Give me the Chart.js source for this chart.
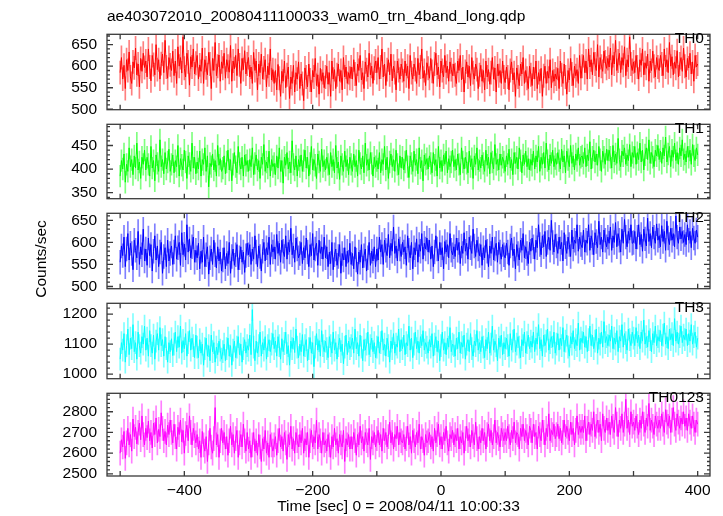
<!DOCTYPE html>
<html><head><meta charset="utf-8">
<script src="https://cdn.jsdelivr.net/npm/chart.js@4.4.1/dist/chart.umd.min.js"></script>
<style>
html,body{margin:0;padding:0;background:#fff;}
#wrap{position:relative;width:723px;height:516px;overflow:hidden;background:#fff;font-family:"Liberation Sans",Arial,Helvetica,sans-serif;color:#000;}
#wrap canvas{position:absolute;left:0;}
.txt{position:absolute;white-space:nowrap;font-size:15.5px;line-height:16px;height:16px;}
</style></head><body>
<div id="wrap"></div>
<script>
// ---------------- data ----------------
const TITLE = "ae403072010_20080411100033_wam0_trn_4band_long.qdp";
const X_LABEL = "Time [sec] 0 = 2008/04/11 10:00:33";
const Y_LABEL = "Counts/sec";
const PANEL_NAMES = ["TH0", "TH1", "TH2", "TH3", "TH0123"];
const T_START = -500;   // time of first bin (s)
const BIN = 2;          // bin width (s)
const X_TICKS = [-500, -400, -300, -200, -100, 0, 100, 200, 300, 400];
const X_LABELED = [-400, -200, 0, 200, 400];
const Y_LABELED = [[500, 550, 600, 650], [350, 400, 450], [500, 550, 600, 650], [1000, 1100, 1200], [2500, 2600, 2700, 2800]];
const ERRORS = [27, 23, 27, 37, 58];

const th0 = [
585,620,570,602,548,615,590,633,575,560,610,596,642,580,605,552,618,588,630,597,
612,575,640,598,566,625,604,580,650,592,615,570,606,628,585,660,598,572,620,603,
590,635,578,612,560,645,600,620,584,668,595,575,630,610,556,622,598,640,582,607,
625,570,603,588,642,560,615,596,580,632,605,548,618,590,655,578,600,626,565,610,
595,630,572,615,600,586,648,565,612,594,625,578,640,603,560,618,592,636,582,605,
620,575,598,560,632,590,612,545,605,585,628,570,596,615,552,600,580,640,568,592,
560,590,545,604,572,530,588,565,612,550,580,598,525,575,560,602,540,585,570,610,
548,582,560,520,596,575,552,605,568,540,590,575,618,555,580,535,595,565,585,550,
575,600,558,585,530,612,570,592,548,580,605,565,590,545,620,575,598,560,585,572,
598,570,615,582,555,605,590,625,568,585,548,610,592,575,630,580,600,560,595,612,
585,620,570,598,640,575,605,555,592,615,580,628,566,600,585,545,612,590,570,605,
590,565,612,578,600,548,625,585,570,605,592,560,618,580,598,640,572,590,555,608,
595,572,618,588,560,605,630,580,598,552,612,590,575,625,585,600,565,610,592,578,
605,580,560,612,590,625,568,598,540,588,610,575,600,555,620,585,570,605,592,548,
580,602,565,590,545,612,575,592,558,585,620,570,596,540,605,578,590,560,612,575,
562,598,575,545,590,610,568,585,530,596,575,555,605,582,620,560,590,572,548,600,
580,555,598,570,612,548,585,565,595,530,578,600,560,588,572,615,550,590,565,582,
570,595,548,612,580,560,605,575,535,590,568,618,582,555,600,578,592,560,625,572,
600,625,585,612,570,640,598,615,580,632,605,590,650,575,620,600,588,635,610,595,
618,598,642,580,625,605,660,590,612,630,585,620,602,645,578,615,598,668,605,590,
610,585,625,598,570,615,602,640,580,608,595,628,565,612,590,635,600,575,620,598,
590,625,605,578,640,598,615,585,655,600,622,580,610,595,636,575,605,620,588,642,
600,575,618,596,630,582,610,565,625,598,605];
const th1 = [
385,418,400,432,372,410,395,445,405,420,388,428,402,455,398,415,380,425,410,440,
398,425,410,385,448,402,418,375,430,412,395,462,405,420,390,435,400,415,442,395,
410,430,392,418,405,450,385,422,408,398,440,415,380,428,412,395,455,402,425,390,
415,400,438,385,420,410,445,395,428,362,412,405,432,398,418,385,450,408,422,395,
402,428,390,415,440,398,420,375,410,435,405,392,448,412,400,425,385,430,408,418,
395,420,405,445,388,412,430,398,418,380,425,410,452,395,415,402,438,385,420,405,
412,388,428,402,445,395,418,370,425,408,435,400,415,392,460,410,398,428,385,420,
405,430,395,418,440,402,425,385,412,448,398,420,408,380,432,415,395,442,405,418,
398,425,410,388,435,405,420,392,450,402,415,378,428,410,395,438,405,420,388,425,
410,395,432,405,418,385,440,412,400,428,392,455,408,420,398,435,412,385,425,405,
418,400,435,392,420,410,448,398,425,380,415,432,405,420,395,440,410,388,428,402,
425,398,415,440,405,382,428,412,395,438,408,420,390,445,402,418,375,430,410,422,
400,428,412,392,435,408,420,385,448,402,418,395,430,410,438,392,422,405,415,440,
405,420,398,432,410,388,445,415,400,425,412,392,438,405,422,380,428,410,445,398,
418,402,430,412,395,440,408,425,390,435,415,400,452,410,420,398,432,408,425,415,
395,428,410,442,402,420,388,435,412,425,400,445,418,392,430,410,438,405,422,398,
420,408,438,400,428,415,448,395,425,410,435,402,455,418,398,430,412,440,405,422,
410,435,418,400,442,415,428,392,438,420,405,450,412,428,398,432,418,445,408,425,
428,412,445,405,430,418,458,400,425,440,415,432,408,448,420,395,438,425,410,442,
418,440,425,402,450,415,432,412,465,420,405,438,428,445,410,430,418,452,405,435,
425,448,410,435,420,455,415,440,398,430,445,420,462,412,435,425,405,440,428,450,
420,438,412,445,428,468,415,432,448,405,440,425,455,418,435,410,445,428,462,420,
432,415,448,425,440,410,452,428,418,445,430];
const th2 = [
555,592,570,612,545,585,620,560,598,575,538,605,582,565,625,550,590,572,630,558,
585,548,610,570,595,535,580,615,560,592,545,578,600,530,568,588,545,605,558,575,
592,550,578,615,562,588,600,548,622,572,596,560,640,578,608,565,590,612,555,582,
565,598,540,580,555,612,545,572,590,528,565,585,550,605,572,542,590,558,578,535,
560,588,540,575,552,600,530,568,585,548,572,595,538,565,590,555,578,532,570,598,
572,595,550,585,562,615,578,545,592,568,535,580,600,558,588,572,612,550,595,578,
590,562,618,575,598,555,605,580,568,615,562,600,578,632,572,592,555,610,585,565,
575,600,552,588,565,610,578,545,595,570,620,560,585,598,548,605,575,590,562,612,
565,590,545,578,552,600,538,572,585,548,568,595,530,575,560,588,545,580,555,598,
550,575,540,590,560,528,578,555,595,542,570,585,535,565,600,548,580,558,590,545,
585,560,612,578,595,550,605,582,570,618,565,598,580,635,575,592,558,608,585,568,
600,578,590,548,615,582,565,600,540,588,572,608,555,595,580,620,562,598,585,610,
578,605,562,592,545,578,615,585,558,600,572,588,540,602,578,595,565,620,582,572,
590,568,610,582,600,552,592,575,622,580,598,562,612,588,575,630,592,568,605,585,
570,595,548,588,565,605,580,545,592,575,612,560,585,598,555,600,578,562,595,572,
565,598,578,548,592,610,570,585,540,595,575,560,605,582,620,565,590,575,552,600,
580,610,590,562,605,588,640,595,572,615,590,625,568,600,612,582,650,600,578,618,
592,575,612,585,600,558,622,590,575,612,595,568,628,585,605,598,640,580,612,595,
588,628,578,605,598,640,582,615,600,572,622,602,588,648,595,612,578,628,605,590,
612,598,635,582,615,600,645,590,620,605,578,630,598,652,612,590,625,605,640,598,
600,625,585,612,640,595,618,580,630,608,592,655,602,620,588,635,612,598,642,605,
615,590,638,602,625,582,648,610,595,632,605,620,590,660,612,598,635,608,625,600,
618,595,640,605,625,588,632,610,598,628,612];
const th3 = [
1050,1105,1080,1135,1040,1095,1150,1065,1120,1085,1165,1075,1105,1050,1140,1095,1070,1125,1100,1160,
1080,1120,1060,1145,1095,1070,1130,1050,1110,1135,1080,1155,1095,1115,1060,1125,1085,1040,1105,1075,
1118,1062,1100,1140,1075,1125,1090,1160,1070,1112,1085,1135,1060,1105,1145,1080,1120,1095,1055,1130,
1090,1055,1115,1070,1100,1030,1085,1120,1060,1095,1045,1130,1075,1105,1040,1090,1065,1110,1080,1050,
1075,1100,1045,1085,1120,1060,1095,1030,1080,1110,1055,1090,1125,1065,1100,1040,1085,1115,1070,1095,
1080,1130,1065,1215,1090,1045,1110,1070,1095,1140,1060,1105,1080,1125,1050,1095,1115,1075,1100,1135,
1085,1110,1060,1125,1095,1050,1118,1075,1102,1140,1068,1095,1030,1110,1085,1120,1072,1150,1090,1055,
1100,1075,1132,1060,1095,1115,1045,1085,1122,1070,1105,1025,1090,1135,1080,1112,1060,1145,1095,1075,
1110,1085,1055,1125,1095,1070,1140,1080,1105,1050,1095,1120,1075,1100,1035,1090,1130,1065,1110,1085,
1095,1120,1070,1150,1085,1105,1060,1130,1090,1045,1115,1080,1100,1140,1065,1095,1120,1075,1105,1055,
1090,1125,1070,1105,1145,1080,1100,1060,1120,1095,1040,1110,1085,1135,1070,1100,1090,1150,1075,1115,
1085,1130,1065,1105,1095,1160,1080,1120,1055,1100,1140,1085,1110,1070,1125,1095,1145,1080,1105,1090,
1070,1115,1090,1135,1060,1100,1125,1075,1110,1045,1095,1140,1080,1105,1065,1120,1090,1155,1075,1100,
1095,1060,1120,1085,1140,1070,1105,1090,1130,1050,1100,1115,1075,1135,1085,1060,1110,1095,1145,1080,
1105,1075,1125,1090,1055,1115,1085,1140,1070,1100,1160,1080,1110,1095,1045,1120,1090,1130,1065,1105,
1085,1120,1095,1060,1135,1080,1110,1150,1075,1100,1125,1090,1055,1115,1095,1140,1070,1105,1130,1085,
1110,1090,1140,1075,1120,1100,1165,1085,1115,1060,1130,1095,1110,1150,1080,1105,1125,1090,1140,1070,
1100,1135,1080,1120,1095,1155,1075,1110,1130,1090,1060,1125,1100,1145,1085,1115,1095,1170,1080,1120,
1105,1140,1090,1125,1075,1115,1160,1095,1130,1085,1110,1150,1070,1120,1100,1140,1090,1175,1105,1125,
1095,1130,1110,1160,1085,1120,1100,1145,1075,1125,1110,1165,1090,1135,1105,1080,1150,1115,1095,1140,
1120,1095,1155,1105,1130,1085,1140,1110,1180,1100,1125,1090,1145,1115,1075,1135,1105,1160,1095,1125,
1110,1145,1095,1130,1170,1100,1125,1085,1150,1115,1135,1095,1185,1110,1140,1100,1125,1160,1105,1130,
1115,1150,1095,1135,1110,1165,1100,1125,1140,1090,1120];
const th0123 = [
2600,2665,2630,2705,2575,2650,2720,2640,2690,2610,2765,2680,2725,2645,2700,2745,2665,2780,2690,2640,
2720,2675,2755,2660,2700,2625,2745,2690,2770,2650,2715,2680,2795,2720,2660,2705,2640,2735,2690,2760,
2700,2650,2740,2680,2620,2725,2690,2760,2655,2710,2600,2695,2735,2660,2780,2700,2640,2720,2685,2650,
2690,2620,2660,2580,2705,2640,2610,2680,2560,2650,2720,2630,2600,2670,2820,2640,2690,2580,2660,2720,
2650,2700,2620,2680,2590,2660,2730,2640,2690,2600,2670,2710,2580,2650,2690,2630,2740,2660,2610,2700,
2620,2660,2580,2640,2700,2610,2660,2590,2690,2630,2560,2670,2620,2710,2600,2650,2580,2690,2640,2610,
2640,2680,2590,2660,2720,2630,2680,2610,2700,2650,2570,2690,2640,2730,2620,2670,2600,2700,2660,2630,
2690,2650,2720,2600,2670,2640,2700,2580,2660,2710,2630,2680,2650,2760,2620,2690,2660,2600,2700,2640,
2660,2610,2690,2640,2580,2680,2630,2720,2640,2670,2600,2690,2650,2630,2710,2560,2670,2640,2690,2620,
2680,2620,2700,2660,2590,2690,2640,2730,2650,2680,2610,2700,2660,2640,2720,2570,2680,2650,2700,2630,
2670,2710,2640,2690,2610,2720,2660,2700,2630,2680,2750,2650,2700,2620,2690,2670,2730,2640,2700,2660,
2650,2690,2620,2670,2730,2640,2680,2600,2710,2660,2630,2700,2650,2740,2620,2680,2660,2590,2690,2650,
2660,2700,2630,2680,2610,2720,2650,2690,2740,2640,2680,2620,2700,2660,2730,2650,2610,2690,2670,2710,
2640,2690,2660,2720,2620,2680,2650,2700,2600,2670,2730,2660,2690,2630,2710,2680,2640,2750,2670,2620,
2680,2650,2720,2660,2700,2620,2690,2740,2660,2710,2640,2680,2760,2650,2700,2670,2630,2720,2690,2660,
2700,2660,2730,2680,2640,2710,2670,2750,2650,2700,2690,2620,2720,2680,2740,2660,2710,2680,2640,2730,
2710,2650,2740,2680,2700,2620,2730,2690,2660,2760,2700,2640,2720,2680,2790,2660,2710,2690,2740,2670,
2690,2740,2670,2720,2650,2700,2760,2680,2730,2700,2660,2750,2690,2720,2640,2710,2780,2690,2730,2700,
2730,2700,2780,2660,2720,2750,2690,2740,2710,2800,2680,2730,2760,2700,2740,2660,2790,2720,2700,2770,
2710,2750,2690,2780,2730,2700,2820,2740,2680,2760,2720,2790,2700,2740,2860,2720,2760,2690,2800,2730,
2750,2710,2780,2730,2690,2760,2720,2800,2740,2700,2770,2730,2840,2710,2760,2730,2690,2780,2740,2720,
2760,2720,2790,2740,2700,2810,2750,2730,2780,2700,2760,2820,2740,2710,2790,2750,2720,2770,2740,2800,
2730,2770,2710,2790,2750,2720,2780,2740,2700,2760,2740];
const SERIES = [th0, th1, th2, th3, th0123];

// ---------------- layout / style ----------------
const COLORS = ["#ff0000", "#00ff00", "#0000ff", "#00ffff", "#ff00ff"];
const ERR_COLORS = ["rgba(255,0,0,0.5)", "rgba(0,255,0,0.5)", "rgba(0,0,255,0.5)", "rgba(0,255,255,0.5)", "rgba(255,0,255,0.5)"];
const Y_RANGES = [[499, 674], [337, 495], [495, 666], [985, 1236], [2490, 2889]];
const Y_MINOR = [10, 10, 10, 20, 20];
const PANEL_TOPS = [27, 117, 206, 296, 386];
const PLOT_BOTTOM = 476;
const PLOT_LEFT = 107, PLOT_RIGHT = 710, W = 723, H = 516;
const X_MIN = -520.5, X_MAX = 419.2;
const FONT = {family: '"Liberation Sans", Arial, Helvetica, sans-serif', size: 15.5};
const PAD = 12, X_AXIS_H = 40;

const wrap = document.getElementById('wrap');
function addText(txt, css) {
  const d = document.createElement('div');
  d.className = 'txt';
  d.textContent = txt;
  Object.assign(d.style, css);
  wrap.appendChild(d);
  return d;
}

const framePlugin = {
  id: 'frame',
  afterDatasetsDraw(chart, args, opts) {
    const {ctx, chartArea: a} = chart;
    const xs = chart.scales.x, ys = chart.scales.y;
    ctx.save();
    ctx.strokeStyle = '#3a3a3a';
    ctx.lineWidth = 1.3;
    ctx.strokeRect(a.left, a.top, a.right - a.left, a.bottom - a.top);
    ctx.beginPath();
    X_TICKS.forEach(v => {
      const px = xs.getPixelForValue(v);
      ctx.moveTo(px, a.top); ctx.lineTo(px, a.top + 5);
      ctx.moveTo(px, a.bottom); ctx.lineTo(px, a.bottom - 5);
    });
    ys.ticks.forEach(t => {
      const py = ys.getPixelForValue(t.value);
      const len = opts.labeled.includes(t.value) ? 6 : 3;
      ctx.moveTo(a.left, py); ctx.lineTo(a.left + len, py);
      ctx.moveTo(a.right, py); ctx.lineTo(a.right - len, py);
    });
    ctx.stroke();
    ctx.restore();
  }
};

function makePanel(i) {
  const isBottom = i === SERIES.length - 1;
  const top = PANEL_TOPS[i];
  const bottom = isBottom ? PLOT_BOTTOM : PANEL_TOPS[i + 1];
  const cTop = top - PAD;
  const cH = isBottom ? H - cTop : (bottom - top) + 2 * PAD;
  const cv = document.createElement('canvas');
  cv.width = W; cv.height = cH;
  cv.style.top = cTop + 'px';
  cv.style.width = W + 'px'; cv.style.height = cH + 'px';
  wrap.appendChild(cv);

  const vals = SERIES[i], err = ERRORS[i];
  const pts = vals.map((v, k) => ({x: T_START + k * BIN, y: v}));
  const bars = vals.map((v, k) => ({x: T_START + k * BIN, y: [v - err, v + err]}));
  const labeled = Y_LABELED[i];

  const xScale = {
    type: 'linear', min: X_MIN, max: X_MAX, offset: false,
    display: isBottom,
    grid: {display: false, drawTicks: false},
    border: {display: false},
    ticks: {
      stepSize: 100, autoSkip: false, maxRotation: 0, includeBounds: false,
      font: FONT, color: '#000', padding: 5,
      callback: v => X_LABELED.includes(v) ? (v < 0 ? '\u2212' + Math.abs(v) : String(v)) : ''
    }
  };
  if (isBottom) xScale.afterFit = s => { s.height = X_AXIS_H; };

  new Chart(cv, {
    type: 'line',
    data: {
      datasets: [
        {type: 'line', data: pts, borderColor: COLORS[i], borderWidth: 1, pointRadius: 0, tension: 0, order: 0},
        {type: 'bar', data: bars, backgroundColor: ERR_COLORS[i], borderWidth: 0, barThickness: 1, grouped: false, order: 1}
      ]
    },
    options: {
      responsive: false, maintainAspectRatio: false, animation: false, devicePixelRatio: 1, events: [],
      layout: {padding: {left: 0, right: W - PLOT_RIGHT, top: PAD, bottom: isBottom ? 0 : PAD}},
      plugins: {legend: {display: false}, tooltip: {enabled: false}, frame: {labeled}},
      scales: {
        x: xScale,
        y: {
          type: 'linear', min: Y_RANGES[i][0], max: Y_RANGES[i][1],
          grid: {display: false, drawTicks: false},
          border: {display: false},
          ticks: {
            stepSize: Y_MINOR[i], autoSkip: false, includeBounds: false,
            font: FONT, color: '#000', padding: 10,
            callback: v => labeled.includes(v) ? String(v) : ''
          },
          afterFit: s => { s.width = PLOT_LEFT; }
        }
      }
    },
    plugins: [framePlugin]
  });

  addText(PANEL_NAMES[i], {right: (W - 704) + 'px', top: (top + 3) + 'px'});
}

for (let i = 0; i < SERIES.length; i++) makePanel(i);

addText(TITLE, {left: '107px', top: '8px'});
addText(X_LABEL, {left: '0px', width: '797px', textAlign: 'center', top: '498px'});
addText(Y_LABEL, {left: '-9px', top: '251px', width: '100px', textAlign: 'center', transform: 'rotate(-90deg)', transformOrigin: '50% 50%'});
</script>
</body></html>
